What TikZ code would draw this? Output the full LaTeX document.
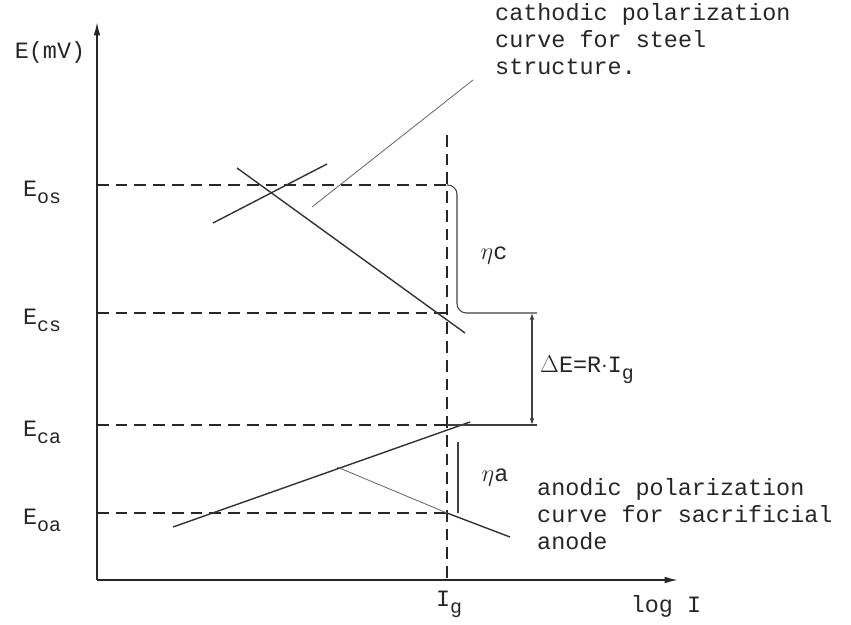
\documentclass[tikz,border=0pt]{standalone}
\usepackage{amsmath}
\usepackage{fontspec}
\setmonofont{Liberation Mono}
\usepackage{tikz}
\usetikzlibrary{arrows.meta, positioning, calc}
\newcommand{\subtxt}[1]{\raisebox{-0.55ex}{\fontsize{17}{17}\selectfont #1}}
\tikzset{
    axisline/.style={-{Latex[length=4mm,width=2mm]}, line width=1.4pt, draw=black!85},
    levelline/.style={line width=1.4pt, dash pattern=on 10pt off 6pt, draw=black!85},
    polcurve/.style={line width=1.2pt, draw=black!80},
    leaderline/.style={line width=0.7pt, draw=black!60},
    gapline/.style={line width=0.9pt, draw=black!75},
    gaparrow/.style={{Latex[length=2mm,width=1.4mm]}-{Latex[length=2mm,width=1.4mm]}, line width=0.9pt, draw=black!75},
    lbl/.style={font=\ttfamily\fontsize{20}{23}\selectfont, inner sep=0pt, text=black!85}
}

\begin{document}
\begin{tikzpicture}[x=0.03cm, y=-0.03cm]
    \useasboundingbox (0,0) rectangle (851,624);

    % Axes
    \coordinate (O) at (97,580);
    \coordinate (ytop) at (97,22);
    \coordinate (xend) at (678,580);
    \draw[axisline] (O) -- (ytop);
    \draw[axisline] (O) -- (xend);
    \node[lbl] (Eaxis) at (50,52) {E(mV)};
    \node[lbl] (logI) at (666,606) {log I};
    \node[lbl] (Ig) at (449,604) {I\subtxt{g}};

    % Potential levels
    \coordinate (os) at (97,185);
    \coordinate (cs) at (97,313);
    \coordinate (ca) at (97,425);
    \coordinate (oa) at (97,513);
    \coordinate (osI) at (447,185);
    \coordinate (csI) at (447,313);
    \coordinate (caI) at (447,425);
    \coordinate (oaI) at (447,513);
    \node[lbl] (Eos) at (42,192) {E\subtxt{os}};
    \node[lbl] (Ecs) at (42,320) {E\subtxt{cs}};
    \node[lbl] (Eca) at (42,432) {E\subtxt{ca}};
    \node[lbl] (Eoa) at (42,520) {E\subtxt{oa}};
    \draw[levelline] (os) -- (osI);
    \draw[levelline] (cs) -- (csI);
    \draw[levelline] (ca) -- (caI);
    \draw[levelline] (oa) -- (oaI);
    \coordinate (Igtop) at (447,135);
    \draw[levelline] (Igtop) -- (447,580);

    % Cathodic polarization curve (steel)
    \coordinate (c1) at (237,168);
    \coordinate (c2) at (465,333);
    \coordinate (c3) at (213,223);
    \coordinate (c4) at (327,164);
    \draw[polcurve] (c1) -- (c2);
    \draw[polcurve] (c3) -- (c4);
    \coordinate (cfoot) at (312,207);
    \coordinate (chead) at (473,80);
    \draw[leaderline] (cfoot) -- (chead);
    \node[lbl, anchor=north west, align=left] (ctext) at (495,3)
        {cathodic polarization\\curve for steel\\structure.};

    % Anodic polarization curve (sacrificial anode)
    \coordinate (a1) at (173,527);
    \coordinate (a2) at (470,422);
    \coordinate (a3) at (337,467);
    \coordinate (a4) at (510,537);
    \draw[polcurve] (a1) -- (a2);
    \draw[leaderline] (a3) -- (oaI);
    \draw[polcurve] (oaI) -- (a4);
    \node[lbl, anchor=north west, align=left] (atext) at (537,478)
        {anodic polarization\\curve for sacrificial\\anode};

    % Overpotentials and IR drop
    \coordinate (etac1) at (457,313);
    \coordinate (gapR1) at (537,313);
    \coordinate (gapR2) at (537,425);
    \draw[gapline, rounded corners=8pt] (osI) -- (457,185) -- (etac1) -- (gapR1);
    \draw[gapline] (caI) -- (gapR2);
    \draw[gaparrow] (532,313) -- (532,425);
    \draw[gapline] (458,442) -- (458,513);
    \node[lbl] (etac) at (494,256) {$\eta$c};
    \node[lbl] (etaa) at (495,478) {$\eta$a};
    \node[lbl, anchor=west] (dE) at (540,370) {$\Delta$E=R$\cdot$I\subtxt{g}};
\end{tikzpicture}
\end{document}
